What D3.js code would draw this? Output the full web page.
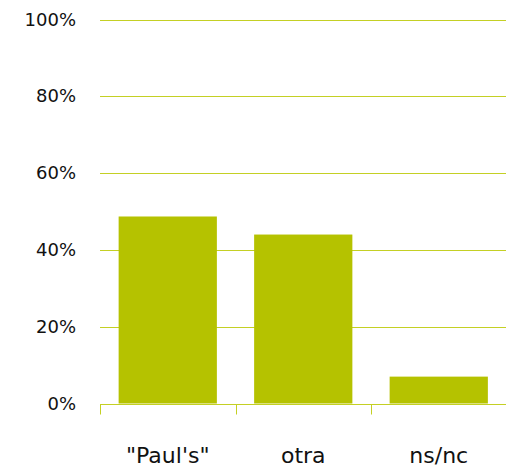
<!DOCTYPE html>
<html>
<head>
<meta charset="utf-8">
<script src="https://cdn.jsdelivr.net/npm/d3@7"></script>
<style>
    body { margin: 0; background: #fff; }
    svg text { font-family: "Comic Sans MS", "DejaVu Sans", sans-serif; fill: #111; }
</style>
</head>
<body>
<svg id="chart" width="506" height="470"></svg>
<script>
// chart values (percent)
const categories = ['"Paul\'s"', "otra", "ns/nc"];
const values = [48.7, 44.0, 7.0];
const yTicks = [0, 20, 40, 60, 80, 100];

const svg = d3.select("#chart");
const margin = {top: 19.5, left: 100, right: 506, bottom: 403.5};

const x = d3.scaleBand()
    .domain(categories)
    .range([margin.left, 506 + 0.5])
    .paddingInner(0.275)
    .paddingOuter(0.1375);

const y = d3.scaleLinear()
    .domain([0, 100])
    .range([margin.bottom, margin.top]);

const gridColour = "#c4d024";

// gridlines
svg.append("g")
    .selectAll("line")
    .data(yTicks.filter(d => d > 0))
    .enter()
    .append("line")
    .attr("x1", margin.left)
    .attr("x2", 506)
    .attr("y1", d => Math.round(y(d)) + 0.5)
    .attr("y2", d => Math.round(y(d)) + 0.5)
    .attr("stroke", gridColour)
    .attr("stroke-width", 1.2);

// y labels
svg.append("g")
    .selectAll("text")
    .data(yTicks)
    .enter()
    .append("text")
    .attr("x", 76)
    .attr("y", d => y(d) + 6)
    .attr("text-anchor", "end")
    .style("font-size", "18px")
    .text(d => d + "%");

// bars
svg.append("g")
    .selectAll("rect")
    .data(values)
    .enter()
    .append("rect")
    .attr("x", (d, i) => x(categories[i]))
    .attr("width", x.bandwidth())
    .attr("y", d => y(d))
    .attr("height", d => y(0) - y(d))
    .attr("fill", "#b5c200");

// x axis line + ticks between categories
const base = Math.round(y(0)) + 0.5;
svg.append("line")
    .attr("x1", margin.left)
    .attr("x2", 506)
    .attr("y1", base)
    .attr("y2", base)
    .attr("stroke", gridColour)
    .attr("stroke-width", 1.2);

const step = x.step();
svg.append("g")
    .selectAll("line")
    .data(categories)
    .enter()
    .append("line")
    .attr("x1", (d, i) => Math.round(margin.left + i * step) + 0.5)
    .attr("x2", (d, i) => Math.round(margin.left + i * step) + 0.5)
    .attr("y1", base)
    .attr("y2", base + 10)
    .attr("stroke", gridColour);

// category labels
svg.append("g")
    .selectAll("text")
    .data(categories)
    .enter()
    .append("text")
    .attr("x", d => margin.left + (categories.indexOf(d) + 0.5) * step)
    .attr("y", 463)
    .attr("text-anchor", "middle")
    .style("font-size", "22px")
    .text(d => d);
</script>
</body>
</html>
